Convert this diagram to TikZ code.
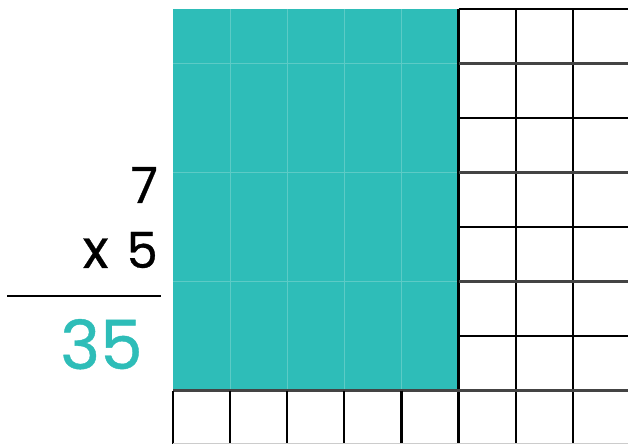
\documentclass[tikz,border=0pt]{standalone}
\usepackage{fontspec}
\setmainfont{Poppins}[FakeBold=0.6]
\usetikzlibrary{positioning}
\definecolor{tealfill}{HTML}{2EBDB8}
\definecolor{tealline}{HTML}{5CCBC6}
\definecolor{gridgray}{HTML}{444444}

\begin{document}
\begin{tikzpicture}[
            x=1bp, y=-1bp,
            % styles
            digit/.style={inner sep=0pt, anchor=base east, font=\fontsize{50}{50}\selectfont},
            result/.style={inner sep=0pt, anchor=base west, text=tealfill, font=\fontsize{68}{68}\selectfont},
            gridline/.style={line width=2.2bp, draw=black},
            grayline/.style={line width=2.2bp, draw=gridgray},
            faint/.style={line width=0.8bp, draw=tealline}
        ]
        \useasboundingbox (0,0) rectangle (628,444);

        % shaded part: 5 columns x 7 rows
        \fill [tealfill] (173,9) rectangle (458.5,390.5);
        \foreach \i in {1,...,4}
            \draw [faint] ({173+57.1*\i},9) -- ({173+57.1*\i},390.5);
        \foreach \y in {63.5,172.5,281.5}
            \draw [faint] (173,\y) -- (458.5,\y);

        % white cells on the right
        \foreach \i in {5,...,8}
            \draw [gridline] ({173+57.1*\i},9) -- ({173+57.1*\i},445);
        \foreach \j in {0,2,4,6}
            \draw [gridline] (458.5,{9+54.5*\j}) -- (630,{9+54.5*\j});
        \foreach \j in {1,3,5}
            \draw [grayline] (458.5,{9+54.5*\j}) -- (630,{9+54.5*\j});

        % white cells along the bottom
        \draw [grayline] (173,390.5) -- (630,390.5);
        \foreach \i in {0,...,4}
            \draw [gridline] ({173+57.1*\i},390.5) -- ({173+57.1*\i},445);
        \draw [line width=1bp, draw=black!20] (173,443.5) -- (630,443.5);

        % the sum
        \node (top)    [digit] at (158,203) {7};
        \node (factor) [digit] at (158,268) {{\fontsize{54}{54}\selectfont x}\hspace{18bp}5};
        \coordinate (ruleL) at (7,296);
        \coordinate (ruleR) at (161,296);
        \draw [line width=2.5bp] (ruleL) -- (ruleR);
        \node (product) [result] at (60,369) {35};

        \end{tikzpicture}
\end{document}
